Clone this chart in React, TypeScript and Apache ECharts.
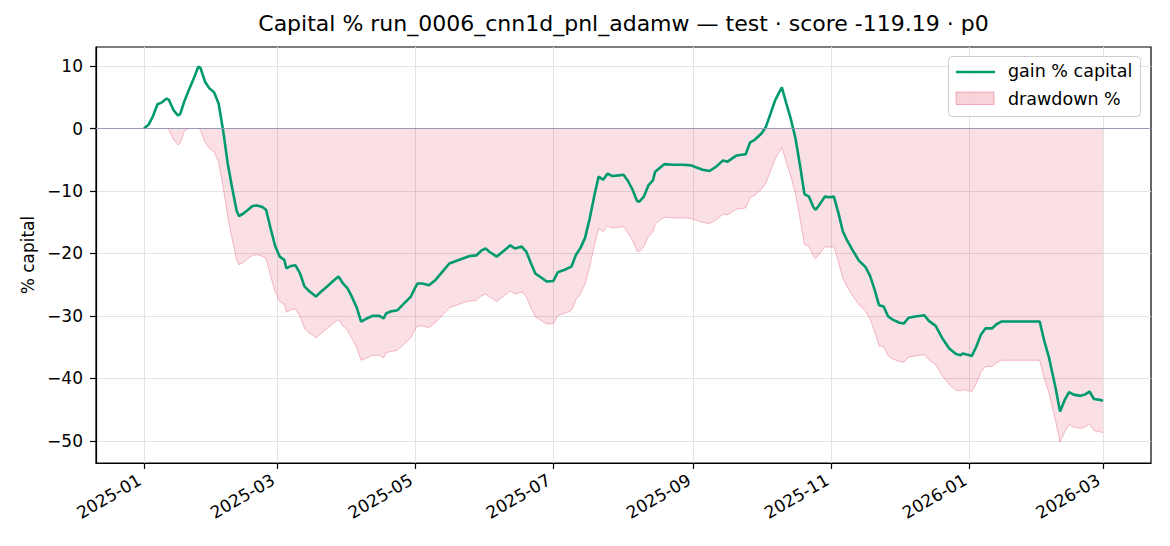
import React, { useEffect, useRef } from "react";
import * as echarts from "echarts";

// x values: days since 2025-01-01
const START = Date.UTC(2025, 0, 1);
const tickLabels = ["2025-01", "2025-03", "2025-05", "2025-07", "2025-09", "2025-11", "2026-01", "2026-03"];
const yTicks = [-50, -40, -30, -20, -10, 0, 10];

const days = [
  0, 2, 4, 6, 8, 10, 11, 13, 15, 16,
  18, 20, 22, 24, 25, 27, 29, 31, 33, 35,
  37, 39, 41, 42, 44, 46, 48, 50, 52, 54,
  56, 58, 60, 62, 63, 65, 67, 69, 71, 73,
  76, 78, 81, 84, 86, 88, 90, 92, 94, 96,
  98, 101, 104, 106, 107, 109, 112, 115, 118, 120,
  121, 123, 126, 129, 132, 135, 138, 141, 144, 147,
  149, 151, 153, 156, 159, 162, 164, 167, 169, 171,
  173, 175, 178, 181, 183, 186, 189, 191, 193, 195,
  197, 199, 201, 203, 205, 207, 210, 212, 214, 216,
  218, 219, 221, 223, 225, 226, 228, 230, 234, 238,
  242, 244, 247, 250, 253, 256, 258, 262, 266, 268,
  270, 273, 275, 277, 279, 282, 284, 286, 288, 290,
  292, 294, 296, 297, 299, 301, 303, 305, 307, 309,
  311, 313, 316, 319, 321, 323, 325, 327, 329, 331,
  334, 336, 338, 341, 345, 347, 350, 353, 356, 359,
  361, 362, 365, 366, 368, 370, 372, 375, 377, 379,
  396, 398, 400, 403, 405, 407, 409, 411, 414, 416,
  418, 420, 422, 424,
];

const gainPct = [
  0.0, 0.6, 2.0, 3.9, 4.2, 4.8, 4.6, 3.0, 2.1, 2.3,
  4.5, 6.3, 8.0, 9.9, 9.7, 7.5, 6.4, 5.8, 4.0, -0.3,
  -5.5, -9.5, -13.2, -14.0, -13.6, -13.0, -12.4, -12.3, -12.5, -13.0,
  -16.0, -18.8, -20.5, -21.0, -22.4, -22.0, -21.9, -23.2, -25.3, -26.0,
  -26.9, -26.2, -25.3, -24.3, -23.7, -24.8, -25.6, -27.0, -28.6, -30.9,
  -30.5, -30.0, -30.0, -30.4, -29.6, -29.3, -29.1, -28.0, -26.9, -25.4,
  -24.8, -24.8, -25.1, -24.2, -22.9, -21.6, -21.2, -20.8, -20.4, -20.3,
  -19.6, -19.2, -19.8, -20.5, -19.6, -18.7, -19.2, -18.9, -19.7, -21.5,
  -23.2, -23.7, -24.5, -24.4, -23.0, -22.6, -22.1, -20.2, -19.1, -17.5,
  -14.5, -10.9, -7.7, -8.2, -7.2, -7.6, -7.5, -7.4, -8.4, -9.8,
  -11.6, -11.7, -10.9, -9.1, -8.3, -6.9, -6.3, -5.7, -5.8, -5.8,
  -5.9, -6.2, -6.6, -6.8, -6.1, -5.1, -5.3, -4.3, -4.1, -2.2,
  -1.8, -0.8, 0.3, 2.4, 4.5, 6.6, 4.0, 1.5, -1.5, -5.8,
  -10.5, -10.9, -12.6, -13.0, -12.0, -10.9, -11.0, -10.9, -13.5, -16.5,
  -18.0, -19.3, -21.1, -22.2, -23.6, -25.8, -28.3, -28.5, -30.1, -30.6,
  -31.1, -31.2, -30.3, -30.1, -29.9, -30.8, -31.6, -33.6, -35.2, -36.1,
  -36.3, -36.0, -36.3, -36.4, -34.9, -33.0, -32.0, -32.0, -31.3, -30.9,
  -30.9, -34.0, -36.5, -41.5, -45.3, -43.5, -42.2, -42.6, -42.8, -42.6,
  -42.1, -43.3, -43.4, -43.6,
];

const drawdownPct = [
  0, 0, 0, 0, 0, 0, -0.2, -1.7, -2.6, -2.4,
  -0.3, 0, 0, 0, -0.2, -2.2, -3.2, -3.7, -5.4, -9.3,
  -14.0, -17.7, -21.0, -21.8, -21.4, -20.8, -20.3, -20.2, -20.4, -20.8,
  -23.6, -26.1, -27.7, -28.1, -29.4, -29.0, -28.9, -30.1, -32.0, -32.7,
  -33.5, -32.9, -32.0, -31.1, -30.6, -31.6, -32.3, -33.6, -35.0, -37.1,
  -36.8, -36.3, -36.3, -36.7, -35.9, -35.7, -35.5, -34.5, -33.5, -32.1,
  -31.6, -31.6, -31.9, -31.0, -29.9, -28.7, -28.3, -27.9, -27.6, -27.5,
  -26.8, -26.5, -27.0, -27.7, -26.8, -26.0, -26.5, -26.2, -26.9, -28.6,
  -30.1, -30.6, -31.3, -31.2, -29.9, -29.6, -29.1, -27.4, -26.4, -24.9,
  -22.2, -18.9, -16.0, -16.5, -15.6, -15.9, -15.8, -15.7, -16.7, -17.9,
  -19.6, -19.7, -18.9, -17.3, -16.6, -15.3, -14.7, -14.2, -14.3, -14.3,
  -14.4, -14.7, -15.0, -15.2, -14.6, -13.7, -13.8, -12.9, -12.7, -11.0,
  -10.7, -9.7, -8.7, -6.8, -4.9, -3.0, -5.4, -7.7, -10.4, -14.3,
  -18.6, -18.9, -20.5, -20.8, -19.9, -18.9, -19.0, -18.9, -21.3, -24.0,
  -25.4, -26.6, -28.2, -29.2, -30.5, -32.5, -34.8, -34.9, -36.4, -36.9,
  -37.3, -37.4, -36.6, -36.4, -36.2, -37.0, -37.8, -39.6, -41.0, -41.9,
  -42.0, -41.8, -42.0, -42.1, -40.8, -39.0, -38.1, -38.1, -37.5, -37.1,
  -37.1, -40.0, -42.2, -46.8, -50.2, -48.6, -47.4, -47.8, -48.0, -47.8,
  -47.3, -48.4, -48.5, -48.7,
];

const TITLE = "Capital % run_0006_cnn1d_pnl_adamw \u2014 test \u00b7 score -119.19 \u00b7 p0";
const FONT = "DejaVu Sans";
const GREEN = "#009A6E";

const tickDays = tickLabels.map((l) => {
  const [y, m] = l.split("-").map(Number);
  return (Date.UTC(y, m - 1, 1) - START) / 86400000;
});

export default function App() {
  const ref = useRef<HTMLDivElement>(null);
  useEffect(() => {
    if (!ref.current) return;
    const chart = echarts.init(ref.current, undefined, { renderer: "svg" });
    const last = days[days.length - 1];
    const pad = (last - days[0]) * 0.05;
    const option: any = {
      animation: false,
      backgroundColor: "#ffffff",
      grid: {
        left: 96,
        right: 19,
        top: 47,
        bottom: 83,
        show: true,
        borderColor: "#000000",
        borderWidth: 1.2,
        backgroundColor: "transparent",
      },
      xAxis: {
        type: "value",
        min: days[0] - pad,
        max: last + pad,
        axisLine: { show: true, onZero: false, lineStyle: { color: "#000", width: 1.2 } },
        axisTick: { show: true, customValues: tickDays, length: 6, lineStyle: { color: "#000", width: 1.2 } },
        axisLabel: {
          customValues: tickDays,
          rotate: 30,
          margin: 13,
          color: "#000",
          fontFamily: FONT,
          fontSize: 17,
          padding: [0, 5, 0, 0],
          formatter: (v: number) => {
            const i = tickDays.findIndex((d) => Math.abs(d - v) < 0.01);
            return i >= 0 ? tickLabels[i] : "";
          },
        },
        splitLine: { show: true, lineStyle: { color: "#e3e3e3", width: 1 } },
      },
      yAxis: {
        type: "value",
        min: -53.55,
        max: 13.06,
        name: "% capital",
        nameLocation: "middle",
        nameGap: 59,
        nameTextStyle: { color: "#000", fontFamily: FONT, fontSize: 17 },
        axisLine: { show: true, onZero: false, lineStyle: { color: "#000", width: 1.2 } },
        axisTick: { show: true, customValues: yTicks, length: 6, lineStyle: { color: "#000", width: 1.2 } },
        axisLabel: {
          customValues: yTicks,
          margin: 13,
          color: "#000",
          fontFamily: FONT,
          fontSize: 17,
          formatter: (v: number) => (v < 0 ? "\u2212" + Math.abs(v) : String(v)),
        },
        splitLine: { show: true, lineStyle: { color: "#e3e3e3", width: 1 } },
      },
      series: [
        {
          name: "drawdown %",
          type: "line",
          data: days.map((d, i) => [d, drawdownPct[i]]),
          symbol: "none",
          lineStyle: { color: "rgba(220,20,60,0.27)", width: 1 },
          areaStyle: { color: "rgba(220,20,60,0.19)", origin: 0 },
          z: 2,
          markLine: {
            silent: true,
            symbol: "none",
            label: { show: false },
            lineStyle: { color: "#959cb3", width: 1.1, type: "solid" },
            data: [{ yAxis: 0 }],
          },
        },
        {
          name: "gain % capital",
          type: "line",
          data: days.map((d, i) => [d, gainPct[i]]),
          symbol: "none",
          lineStyle: { color: GREEN, width: 2.6 },
          z: 4,
        },
      ],
      graphic: [
        {
          type: "text",
          x: 623.5,
          y: 23.5,
          style: {
            text: TITLE,
            fill: "#000",
            font: `22px '${FONT}'`,
            textAlign: "center",
            textVerticalAlign: "middle",
          },
        },
        {
          type: "rect",
          z: 100,
          shape: { x: 948.5, y: 56.5, width: 192, height: 60, r: 4 },
          style: { fill: "rgba(255,255,255,0.85)", stroke: "#cccccc", lineWidth: 1 },
        },
        {
          type: "line",
          z: 101,
          shape: { x1: 956, y1: 72, x2: 995, y2: 72 },
          style: { stroke: GREEN, lineWidth: 2.6 },
        },
        {
          type: "text",
          z: 101,
          x: 1008,
          y: 71,
          style: { text: "gain % capital", fill: "#000", font: `17.5px '${FONT}'`, textVerticalAlign: "middle" },
        },
        {
          type: "rect",
          z: 101,
          shape: { x: 956, y: 92, width: 38, height: 12.5 },
          style: { fill: "rgba(220,20,60,0.19)", stroke: "rgba(220,20,60,0.3)", lineWidth: 1 },
        },
        {
          type: "text",
          z: 101,
          x: 1008,
          y: 98.5,
          style: { text: "drawdown %", fill: "#000", font: `17.5px '${FONT}'`, textVerticalAlign: "middle" },
        },
      ],
    };
    chart.setOption(option);
    return () => chart.dispose();
  }, []);
  return (
    <div
      ref={ref}
      style={{ position: "absolute", left: 0, top: 0, width: 1170, height: 546, background: "#fff" }}
    />
  );
}
